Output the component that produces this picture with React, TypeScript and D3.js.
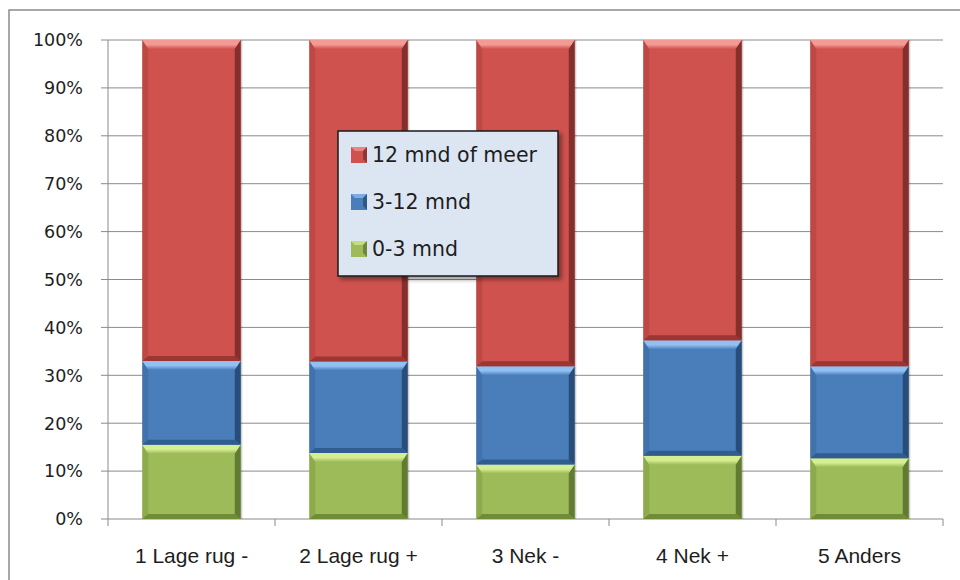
import React from 'react';
import * as d3 from 'd3';

const categories = ['1 Lage rug -', '2 Lage rug +', '3 Nek -', '4 Nek +', '5 Anders'];
const seriesNames = ['0-3 mnd', '3-12 mnd', '12 mnd of meer'];
const short = [15.5, 13.8, 11.4, 13.2, 12.7];
const mid = [17.5, 19.1, 20.5, 24.1, 19.2];
const long = [67.0, 67.1, 68.1, 62.7, 68.1];
const yTicks = [0, 0.1, 0.2, 0.3, 0.4, 0.5, 0.6, 0.7, 0.8, 0.9, 1];

const palette = [
  { face: '#9dbb59', light: '#d6ee92', dark: '#6f8c37', edge: '#4f6625' },
  { face: '#4a7ebb', light: '#92c0f2', dark: '#305c90', edge: '#1f3e66' },
  { face: '#cf524e', light: '#f49a95', dark: '#9c3633', edge: '#6e2321' },
];

const W = 960;
const H = 580;
const margin = { top: 40, right: 17, bottom: 61, left: 108 };

function Bevel({ x, y, w, h, c, id }: { x: number; y: number; w: number; h: number; c: typeof palette[0]; id: string }) {
  const s = Math.min(6, w / 4);
  const t = Math.min(9, h / 3);
  const b = Math.min(5, h / 4);
  return (
    <g>
      <rect x={x} y={y} width={w} height={h} fill={c.face} />
      <polygon points={`${x},${y} ${x + w},${y} ${x + w - s},${y + t} ${x + s},${y + t}`} fill={`url(#top-${id})`} />
      <polygon points={`${x},${y + h} ${x + w},${y + h} ${x + w - s},${y + h - b} ${x + s},${y + h - b}`} fill={c.dark} />
      <polygon points={`${x},${y} ${x + s},${y + t} ${x + s},${y + h - b} ${x},${y + h}`} fill={c.dark} opacity={0.35} />
      <polygon points={`${x + w},${y} ${x + w - s},${y + t} ${x + w - s},${y + h - b} ${x + w},${y + h}`} fill={c.edge} opacity={0.75} />
      <line x1={x + w + 1} x2={x + w + 1} y1={y} y2={y + h} stroke="#000" strokeOpacity={0.25} />
    </g>
  );
}

export default function App() {
  const innerW = W - margin.left - margin.right;
  const innerH = H - margin.top - margin.bottom;

  const rows = categories.map((cat, i) => ({ cat, s0: short[i], s1: mid[i], s2: long[i] }));
  const stack = d3.stack<any>().keys(['s0', 's1', 's2']).offset(d3.stackOffsetExpand)(rows);

  const x = d3.scaleBand().domain(categories).range([0, innerW]).paddingInner(0.41).paddingOuter(0.205);
  const y = d3.scaleLinear().domain([0, 1]).range([innerH, 0]);
  const fmt = d3.format('.0%');

  const edges = d3.range(categories.length + 1).map((i) => (innerW / categories.length) * i);

  const lx = 338;
  const ly = 131;
  const lw = 220;
  const lh = 145;

  return (
    <svg width={W} height={H} style={{ position: 'absolute', left: 0, top: 0, background: '#fff' }}>
      <defs>
        {palette.map((c, i) => (
          <linearGradient key={i} id={`top-${i}`} x1="0" y1="0" x2="0" y2="1">
            <stop offset="0%" stopColor={c.light} />
            <stop offset="50%" stopColor={c.light} />
            <stop offset="100%" stopColor={c.face} />
          </linearGradient>
        ))}
        <filter id="shadow" x="-10%" y="-10%" width="130%" height="130%">
          <feGaussianBlur in="SourceAlpha" stdDeviation="2" />
          <feOffset dx="3" dy="3" result="b" />
          <feComponentTransfer>
            <feFuncA type="linear" slope="0.4" />
          </feComponentTransfer>
          <feMerge>
            <feMergeNode />
            <feMergeNode in="SourceGraphic" />
          </feMerge>
        </filter>
      </defs>
      <rect x={9} y={10} width={960} height={600} fill="#fff" stroke="#8c8c8c" strokeWidth={1.5} />
      <g transform={`translate(${margin.left},${margin.top})`}>
        {yTicks.map((t) => (
          <g key={t}>
            <line x1={0} x2={innerW} y1={y(t)} y2={y(t)} stroke="#8a8a8a" strokeWidth={1} />
            <line x1={-7} x2={0} y1={y(t)} y2={y(t)} stroke="#8a8a8a" />
            <text x={-25} y={y(t)} dy="0.36em" textAnchor="end" fontFamily="DejaVu Sans, Verdana, sans-serif" fontSize={17.5} fill="#1e1e1e">
              {fmt(t)}
            </text>
          </g>
        ))}
        <line x1={0} x2={0} y1={0} y2={innerH} stroke="#8a8a8a" />
        {edges.map((e, i) => (
          <line key={i} x1={e} x2={e} y1={innerH} y2={innerH + 7} stroke="#8a8a8a" />
        ))}
        {stack.map((layer, si) =>
          layer.map((d, i) => (
            <Bevel
              key={`${si}-${i}`}
              id={String(si)}
              x={x(categories[i]) as number}
              y={y(d[1])}
              w={x.bandwidth()}
              h={y(d[0]) - y(d[1])}
              c={palette[si]}
            />
          ))
        )}
        {categories.map((c) => (
          <text key={c} x={(x(c) as number) + x.bandwidth() / 2} y={innerH + 44} textAnchor="middle" fontFamily="Liberation Sans, Arial, sans-serif" fontSize={21} fill="#1e1e1e">
            {c}
          </text>
        ))}
      </g>
      <rect x={lx} y={ly} width={lw} height={lh} fill="#dce6f2" stroke="#1a1a1a" strokeWidth={1.5} filter="url(#shadow)" />
      {[2, 1, 0].map((si, k) => {
        const cy = ly + 24 + k * 47;
        const c = palette[si];
        return (
          <g key={si}>
            <rect x={lx + 13} y={cy - 8} width={16} height={16} fill={c.face} />
            <polygon points={`${lx + 13},${cy - 8} ${lx + 29},${cy - 8} ${lx + 25},${cy - 4} ${lx + 17},${cy - 4}`} fill={c.light} opacity={0.7} />
            <polygon points={`${lx + 29},${cy - 8} ${lx + 29},${cy + 8} ${lx + 25},${cy + 4} ${lx + 25},${cy - 4}`} fill={c.edge} opacity={0.6} />
            <text x={lx + 34} y={cy} dy="0.36em" fontFamily="DejaVu Sans, Verdana, sans-serif" fontSize={20.5} fill="#1e1e1e">
              {seriesNames[si]}
            </text>
          </g>
        );
      })}
    </svg>
  );
}
